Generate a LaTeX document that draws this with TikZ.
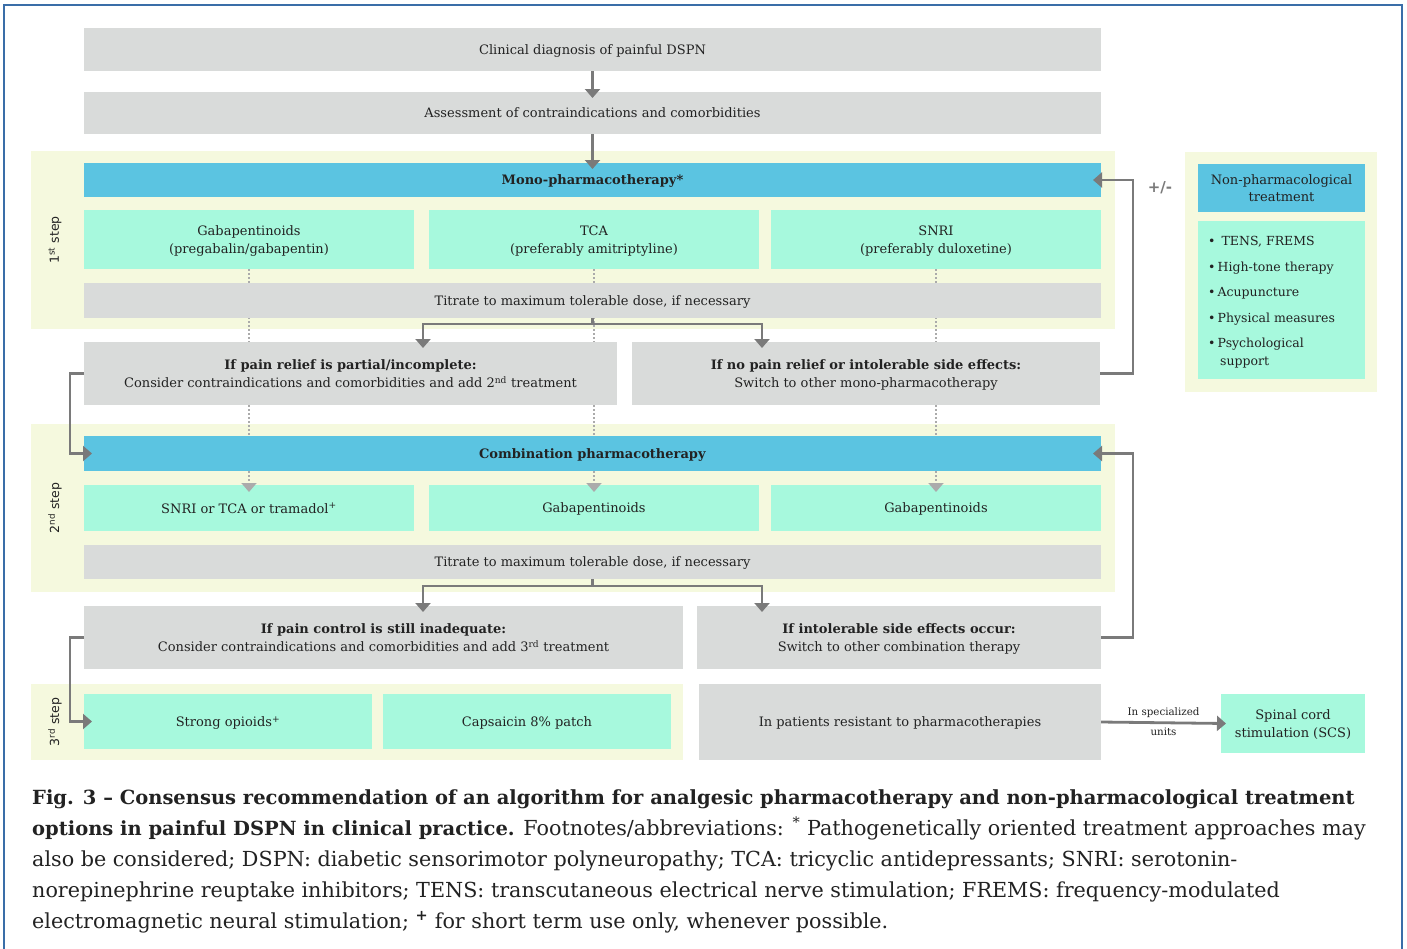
\documentclass[tikz,border=0pt]{standalone}
\usepackage{fontspec}
\setmainfont{DejaVu Serif}
\setsansfont{DejaVu Sans}
\usetikzlibrary{arrows.meta,calc}
\definecolor{boxgray}{HTML}{D9DBDA}
\definecolor{panelyel}{HTML}{F5F9DE}
\definecolor{barblue}{HTML}{5BC4E1}
\definecolor{mint}{HTML}{A7F9DD}
\definecolor{arrgray}{HTML}{7A7A7A}
\definecolor{dotgray}{HTML}{ABABAB}
\definecolor{frameblue}{HTML}{3A6EA8}
\definecolor{txt}{HTML}{222222}
\pgfdeclarelayer{bg}\pgfdeclarelayer{mid}\pgfsetlayers{bg,mid,main}
\tikzset{
 box/.style={rectangle, inner sep=0pt, outer sep=0pt, align=center, text=txt, text depth=0pt, font=\fontsize{13}{18}\selectfont},
 graybox/.style={box, fill=boxgray},
 bluebar/.style={box, fill=barblue},
 mintbox/.style={box, fill=mint},
 panel/.style={rectangle, fill=panelyel, inner sep=0pt, outer sep=0pt},
 arr/.style={draw=arrgray, line width=2.8pt, -{Triangle[width=15pt,length=9pt]}},
 conn/.style={draw=arrgray, line width=2.8pt},
 dotline/.style={draw=dotgray, line width=1.8pt, dash pattern=on 1.8pt off 2.2pt},
 dotarr/.style={dotline, -{Triangle[width=15pt,length=9pt]}},
 steplabel/.style={rotate=90, font=\sffamily\fontsize{12.5}{15}\selectfont, text=txt},
 listitem/.style={anchor=base west, inner sep=0pt, text=txt, font=\fontsize{12.5}{15}\selectfont},
 capline/.style={anchor=base west, inner sep=0pt, text=txt, font=\fontsize{20.7}{31}\selectfont},
 small/.style={inner sep=0pt, text=txt, font=\fontsize{10.3}{12}\selectfont},
}
\newcommand\capbf[1]{{\fontsize{19.5}{31}\selectfont\bfseries #1}}
\begin{document}
\begin{tikzpicture}[x=1pt,y=-1pt]
\useasboundingbox (0,0) rectangle (1407,948);
\draw[frameblue, line width=2pt] (4,5) rectangle (1402,990);
\begin{pgfonlayer}{bg}
\node[panel, minimum width=1084pt, minimum height=178pt] (p1) at (573,240) {};
\node[panel, minimum width=1084pt, minimum height=168pt] (p2) at (573,508) {};
\node[panel, minimum width=652pt, minimum height=76pt] (p3) at (357,722) {};
\node[panel, minimum width=192pt, minimum height=240pt] (pnp) at (1281,272) {};
\end{pgfonlayer}
% top
\node[graybox, minimum width=1017pt, minimum height=43pt] (clin) at (592.5,49.5) {Clinical diagnosis of painful DSPN};
\node[graybox, minimum width=1017pt, minimum height=42pt] (assess) at (592.5,113) {Assessment of contraindications and comorbidities};
% step 1
\node[bluebar, minimum width=1017pt, minimum height=34pt] (mono) at (592.5,180) {\textbf{Mono-pharmacotherapy*}};
\node[mintbox, minimum width=330pt, minimum height=59pt] (g1) at (249,239.5) {Gabapentinoids\\(pregabalin/gabapentin)};
\node[mintbox, minimum width=330pt, minimum height=59pt] (g2) at (594,239.5) {TCA\\(preferably amitriptyline)};
\node[mintbox, minimum width=330pt, minimum height=59pt] (g3) at (936,239.5) {SNRI\\(preferably duloxetine)};
\node[graybox, minimum width=1017pt, minimum height=35pt] (tit1) at (592.5,300.5) {Titrate to maximum tolerable dose, if necessary};
\node[graybox, minimum width=533pt, minimum height=63pt] (ifA) at (350.5,373.5) {\textbf{If pain relief is partial/incomplete:}\\Consider contraindications and comorbidities and add 2\textsuperscript{nd} treatment};
\node[graybox, minimum width=468pt, minimum height=63pt] (ifB) at (866,373.5) {\textbf{If no pain relief or intolerable side effects:}\\Switch to other mono-pharmacotherapy};
% step 2
\node[bluebar, minimum width=1017pt, minimum height=35pt] (combo) at (592.5,453.5) {\textbf{Combination pharmacotherapy}};
\node[mintbox, minimum width=330pt, minimum height=46pt] (c1) at (249,508) {SNRI or TCA or tramadol\textsuperscript{+}};
\node[mintbox, minimum width=330pt, minimum height=46pt] (c2) at (594,508) {Gabapentinoids};
\node[mintbox, minimum width=330pt, minimum height=46pt] (c3) at (936,508) {Gabapentinoids};
\node[graybox, minimum width=1017pt, minimum height=34pt] (tit2) at (592.5,562) {Titrate to maximum tolerable dose, if necessary};
\node[graybox, minimum width=599pt, minimum height=63pt] (ifC) at (383.5,637.5) {\textbf{If pain control is still inadequate:}\\Consider contraindications and comorbidities and add 3\textsuperscript{rd} treatment};
\node[graybox, minimum width=404pt, minimum height=63pt] (ifD) at (899,637.5) {\textbf{If intolerable side effects occur:}\\Switch to other combination therapy};
% step 3
\node[mintbox, minimum width=288pt, minimum height=55pt] (op) at (228,721.5) {Strong opioids\textsuperscript{+}};
\node[mintbox, minimum width=288pt, minimum height=55pt] (cap) at (527,721.5) {Capsaicin 8\% patch};
\node[graybox, minimum width=402pt, minimum height=76pt] (resist) at (900,722) {In patients resistant to pharmacotherapies};
\node[mintbox, minimum width=144pt, minimum height=59pt] (scs) at (1293,723.5) {Spinal cord\\stimulation (SCS)};
% non-pharmacological
\node[bluebar, minimum width=167pt, minimum height=48pt, font=\fontsize{13}{17}\selectfont] (nph) at (1281.5,188) {Non-pharmacological\\treatment};
\node[mintbox, minimum width=167pt, minimum height=158pt] (npl) at (1281.5,300) {};
\node[listitem] (np1) at (1208,245) {•\ \,TENS, FREMS};
\node[listitem] (np2) at (1208,271) {•\,High-tone therapy};
\node[listitem] (np3) at (1208,296) {•\,Acupuncture};
\node[listitem] (np4) at (1208,322) {•\,Physical measures};
\node[listitem] (np5) at (1208,347) {•\,Psychological};
\node[listitem] (np6) at (1220,365) {support};
% step labels
\node[steplabel] (s1) at (55,240) {1\textsuperscript{st} step};
\node[steplabel] (s2) at (55,508) {2\textsuperscript{nd} step};
\node[steplabel] (s3) at (55,722) {3\textsuperscript{rd} step};
% dotted lines
\begin{pgfonlayer}{mid}
\foreach \a in {g1,g2,g3} \draw[dotline] (\a.south) -- (combo.north -| \a.south);
\end{pgfonlayer}
\foreach \a in {c1,c2,c3} \draw[dotarr] (combo.south -| \a.north) -- ([yshift=-7pt]\a.north);
% solid arrows
\draw[arr] (clin.south) -- ([yshift=-6pt]assess.north);
\draw[arr] (assess.south) -- ([yshift=-6pt]mono.north);
\coordinate (sp1) at ($(tit1.south)+(0,6)$);
\coordinate (tL1) at (423,348);
\coordinate (tR1) at (762,348);
\draw[conn] (tit1.south) -- ([yshift=-1.4pt]sp1);
\draw[arr] (sp1) -| (tL1);
\draw[arr] (sp1) -| (tR1);
\coordinate (sp2) at ($(tit2.south)+(0,7)$);
\coordinate (tL2) at (423,612);
\coordinate (tR2) at (762,612);
\draw[conn] (tit2.south) -- ([yshift=-1.4pt]sp2);
\draw[arr] (sp2) -| (tL2);
\draw[arr] (sp2) -| (tR2);
\draw[arr] (ifB.east) -- ++(33,0) |- ([xshift=-8pt]mono.east);
\draw[arr] (ifD.east) -- ++(32,0) |- ([xshift=-8pt]combo.east);
\draw[arr] (ifA.west) -- ++(-14,0) |- ([xshift=8pt]combo.west);
\draw[arr] (ifC.west) -- ++(-14,0) |- ([xshift=8pt]op.west);
\node[font=\sffamily\bfseries\fontsize{15}{18}\selectfont, text=arrgray] (pm) at (1160,188) {+/-};
\draw[arr] (resist.east) -- ([xshift=5pt]scs.west)
  node[small, midway, above=4pt] (lab1) {In specialized}
  node[small, midway, below=4pt] (lab2) {units};
% caption
\node[capline] (cap1) at (32,804) {\capbf{Fig. 3 – Consensus recommendation of an algorithm for analgesic pharmacotherapy and non-pharmacological treatment}};
\node[capline] (cap2) at (32,835) {\capbf{options in painful DSPN in clinical practice.} Footnotes/abbreviations: \textsuperscript{*} Pathogenetically oriented treatment approaches may};
\node[capline] (cap3) at (32,866) {also be considered; DSPN: diabetic sensorimotor polyneuropathy; TCA: tricyclic antidepressants; SNRI: serotonin-};
\node[capline] (cap4) at (32,897) {norepinephrine reuptake inhibitors; TENS: transcutaneous electrical nerve stimulation; FREMS: frequency-modulated};
\node[capline] (cap5) at (32,928) {electromagnetic neural stimulation; \textsuperscript{\textbf{+}} for short term use only, whenever possible.};
\end{tikzpicture}
\end{document}
